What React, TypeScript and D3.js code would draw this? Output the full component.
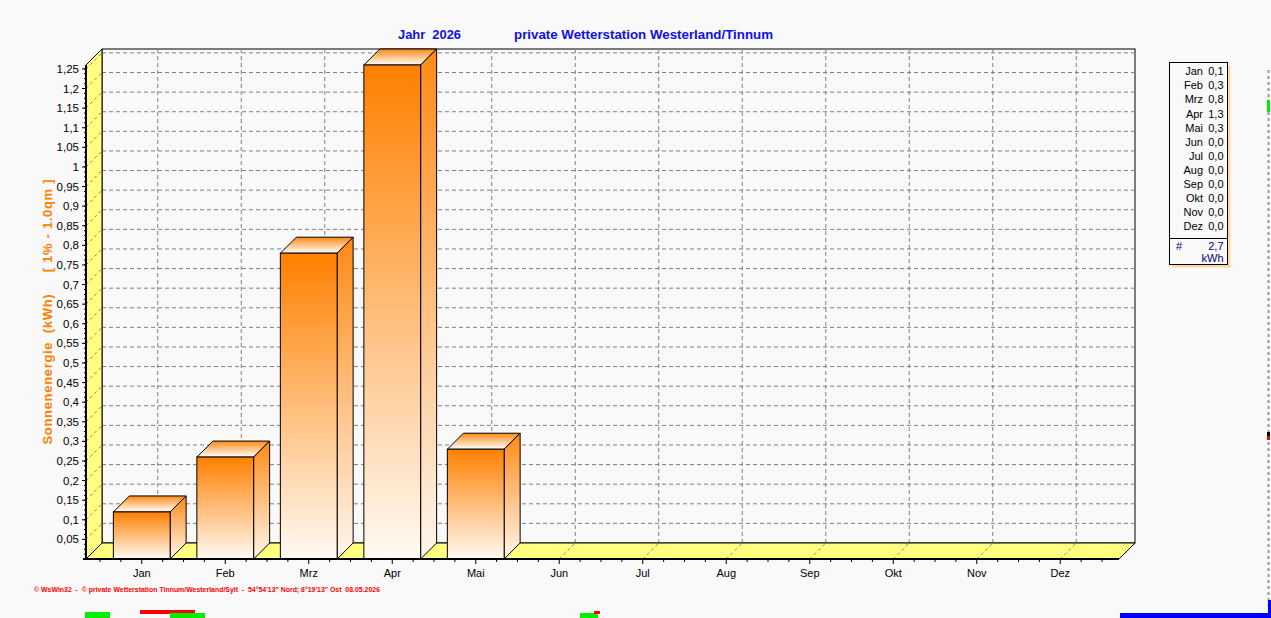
import React from "react";
import * as d3 from "d3";

// monthly values (kWh)
const months = ["Jan", "Feb", "Mrz", "Apr", "Mai", "Jun", "Jul", "Aug", "Sep", "Okt", "Nov", "Dez"];
const energy = [0.12, 0.26, 0.78, 1.26, 0.28, 0, 0, 0, 0, 0, 0, 0];
const yTicks = d3.range(1, 26).map((i) => +(i * 0.05).toFixed(2));
const unit = "kWh";
const titleYear = "Jahr  2026";
const titleStation = "private Wetterstation Westerland/Tinnum";
const yTitle = "Sonnenenergie  (kWh)     [ 1% - 1.0qm ]";
const footer = "© WsWin32  -  © private Wetterstation Tinnum/Westerland/Sylt  -  54°54'13\" Nord; 8°19'13\" Ost  08.05.2026";

const W = 1271;
const H = 618;
const FONT = "'Liberation Sans', Arial, sans-serif";

export default function App() {
	// plot frame (front plane) and 3D depth
	const left = 86;
	const right = 1119;
	const bottom = 559;
	const top = 65;
	const dx = 16;
	const dy = 16;

	const y = d3.scaleLinear().domain([0, 1.26]).range([bottom, top]);
	const x = d3.scaleBand<string>().domain(months).range([100, 1102]).paddingInner(0.32).paddingOuter(0.16);
	const bw = x.bandwidth();
	const step = x.step();
	const cx = (m: string) => (x(m) ?? 0) + bw / 2;

	const fmtTick = (v: number) => d3.format(".2~f")(v).replace(".", ",");
	const fmt1 = (v: number) => d3.format(".1f")(v).replace(".", ",");
	const total = d3.sum(energy);

	const grid = "#808080";
	const yellow = "#ffff80";
	const bg = "#f9f9f9";

	// x-axis ticks: quarter steps, major at category centre
	const xTicks: { x: number; major: boolean }[] = [];
	months.forEach((m, i) => {
		for (let k = 0; k < 4; k++) xTicks.push({ x: cx(m) + ((k - 2) * step) / 4, major: k === 2 });
		if (i === months.length - 1) xTicks.push({ x: cx(m) + step / 2, major: false });
	});
	const yMinor = d3.range(1, 101).map((i) => i * 0.0125).filter((v) => v <= 1.26);

	// legend
	const lx = 1169.5;
	const ly = 62.5;
	const lw = 58;
	const lh = 202;
	const rowH = 14.06;

	return (
		<svg width={W} height={H} style={{ position: "absolute", left: 0, top: 0, background: bg }} fontFamily={FONT}>
			<defs>
				<linearGradient id="front" x1="0" y1="0" x2="0" y2="1">
					<stop offset="0%" stopColor="#ff8000" />
					<stop offset="100%" stopColor="#fffaf4" />
				</linearGradient>
				<linearGradient id="side" x1="0" y1="0" x2="0" y2="1">
					<stop offset="0%" stopColor="#ff8a14" />
					<stop offset="100%" stopColor="#fff6ee" />
				</linearGradient>
				<linearGradient id="topface" x1="0" y1="0" x2="0" y2="1">
					<stop offset="0%" stopColor="#ff8a14" />
					<stop offset="100%" stopColor="#ffffff" />
				</linearGradient>
			</defs>
			<rect width={W} height={H} fill={bg} />

			{/* title */}
			<text x={398} y={39} fontSize={12.5} fontWeight="bold" fill="#1010e8" xmlSpace="preserve" textLength={63} lengthAdjust="spacingAndGlyphs">
				{titleYear}
			</text>
			<text x={514} y={39} fontSize={12.5} fontWeight="bold" fill="#1010e8" textLength={259} lengthAdjust="spacingAndGlyphs">
				{titleStation}
			</text>

			{/* back wall */}
			<rect x={left + dx} y={top - dy} width={right - left} height={bottom - top} fill={bg} stroke="#000" />
			{yTicks.map((v) => (
				<line key={"h" + v} x1={left + dx} x2={right + dx} y1={y(v) - dy} y2={y(v) - dy} stroke={grid} strokeDasharray="4,3" />
			))}
			{months.map((m) => (
				<line key={"v" + m} x1={cx(m) + dx} x2={cx(m) + dx} y1={top - dy} y2={bottom - dy} stroke={grid} strokeDasharray="4,3" />
			))}

			{/* left wall */}
			<polygon
				points={`${left},${bottom} ${left},${top} ${left + dx},${top - dy} ${left + dx},${bottom - dy}`}
				fill={yellow}
				stroke="#000"
			/>
			{yTicks.map((v) => (
				<line key={"lw" + v} x1={left} y1={y(v)} x2={left + dx} y2={y(v) - dy} stroke={grid} strokeDasharray="3,3" />
			))}

			{/* floor */}
			<polygon
				points={`${left},${bottom} ${left + dx},${bottom - dy} ${right + dx},${bottom - dy} ${right},${bottom}`}
				fill={yellow}
				stroke="#000"
			/>
			{months.map((m) => (
				<line key={"fl" + m} x1={cx(m)} y1={bottom} x2={cx(m) + dx} y2={bottom - dy} stroke={grid} strokeDasharray="3,3" />
			))}

			{/* bars */}
			{months.map((m, i) => {
				const v = energy[i];
				if (!v) return null;
				const x0 = x(m) ?? 0;
				const x1 = x0 + bw;
				const yv = y(v);
				return (
					<g key={"b" + m} stroke="#000" strokeWidth={1}>
						<polygon points={`${x0},${yv} ${x0 + dx},${yv - dy} ${x1 + dx},${yv - dy} ${x1},${yv}`} fill="url(#topface)" />
						<polygon points={`${x1},${yv} ${x1 + dx},${yv - dy} ${x1 + dx},${bottom - dy} ${x1},${bottom}`} fill="url(#side)" />
						<rect x={x0} y={yv} width={bw} height={bottom - yv} fill="url(#front)" />
					</g>
				);
			})}

			{/* axes */}
			<line x1={left} x2={left} y1={top} y2={bottom + 1} stroke="#000" strokeWidth={2} />
			<line x1={left - 3} x2={right} y1={bottom} y2={bottom} stroke="#000" strokeWidth={2} />
			{yMinor.map((v) => (
				<line key={"ym" + v} x1={left - 2} x2={left} y1={y(v)} y2={y(v)} stroke="#000" />
			))}
			{yTicks.map((v) => (
				<g key={"yt" + v}>
					<line x1={left - 4} x2={left} y1={y(v)} y2={y(v)} stroke="#000" />
					<text x={79} y={y(v)} dy="0.35em" fontSize={11.5} textAnchor="end" fill="#000">
						{fmtTick(v)}
					</text>
				</g>
			))}
			{xTicks.map((t, i) => (
				<line key={"xt" + i} x1={t.x} x2={t.x} y1={bottom} y2={bottom + (t.major ? 5 : 3)} stroke="#000" />
			))}
			{months.map((m) => (
				<text key={"xl" + m} x={cx(m)} y={577} fontSize={11} textAnchor="middle" fill="#000">
					{m}
				</text>
			))}

			{/* y title */}
			<text
				transform={`translate(52,312) rotate(-90)`}
				fontSize={13}
				fontWeight="bold"
				fill="#ff8000"
				textAnchor="middle"
				xmlSpace="preserve"
				textLength={265}
				lengthAdjust="spacing"
			>
				{yTitle}
			</text>

			{/* legend */}
			<rect x={lx + 3} y={ly + 3} width={lw} height={lh} fill="#ffd6a6" />
			<rect x={lx} y={ly} width={lw} height={lh} fill={bg} stroke="#000" />
			{months.map((m, i) => (
				<g key={"lg" + m} fontSize={11} fill="#000">
					<text x={1203} y={ly + 9 + i * rowH} dy="0.35em" textAnchor="end">
						{m}
					</text>
					<text x={1223.5} y={ly + 9 + i * rowH} dy="0.35em" textAnchor="end">
						{fmt1(energy[i])}
					</text>
				</g>
			))}
			<line x1={lx} x2={lx + lw} y1={238.5} y2={238.5} stroke="#000" />
			<text x={1176} y={246} dy="0.35em" fontSize={11} fill="#000080">
				#
			</text>
			<text x={1223.5} y={246} dy="0.35em" fontSize={11} fill="#000080" textAnchor="end">
				{fmt1(total)}
			</text>
			<text x={1223.5} y={258} dy="0.35em" fontSize={11} fill="#000080" textAnchor="end">
				{unit}
			</text>

			{/* footer */}
			<text x={34} y={592} fontSize={8} fontWeight="bold" fill="#ff0000" xmlSpace="preserve" textLength={346} lengthAdjust="spacingAndGlyphs">
				{footer}
			</text>

			{/* neighbouring page fragments at the edges */}
			<line x1={1268.5} x2={1268.5} y1={70} y2={606} stroke="#999" strokeWidth={2} strokeDasharray="3,3" />
			<rect x={1267} y={100} width={3} height={12} fill="#00ee00" />
			<rect x={1267} y={432} width={3} height={4} fill="#000" />
			<rect x={1267} y={436} width={3} height={4} fill="#ff0000" />
			<rect x={85} y={612} width={25} height={6} fill="#00ee00" />
			<rect x={140} y={610} width={55} height={4} fill="#ff0000" />
			<rect x={170} y={613} width={35} height={5} fill="#00ee00" />
			<rect x={580} y={613} width={18} height={5} fill="#00ee00" />
			<rect x={594} y={611} width={6} height={3} fill="#ff0000" />
			<rect x={1120} y={613} width={151} height={5} fill="#0000ff" />
			<rect x={1268} y={600} width={3} height={18} fill="#0000ff" />
		</svg>
	);
}
